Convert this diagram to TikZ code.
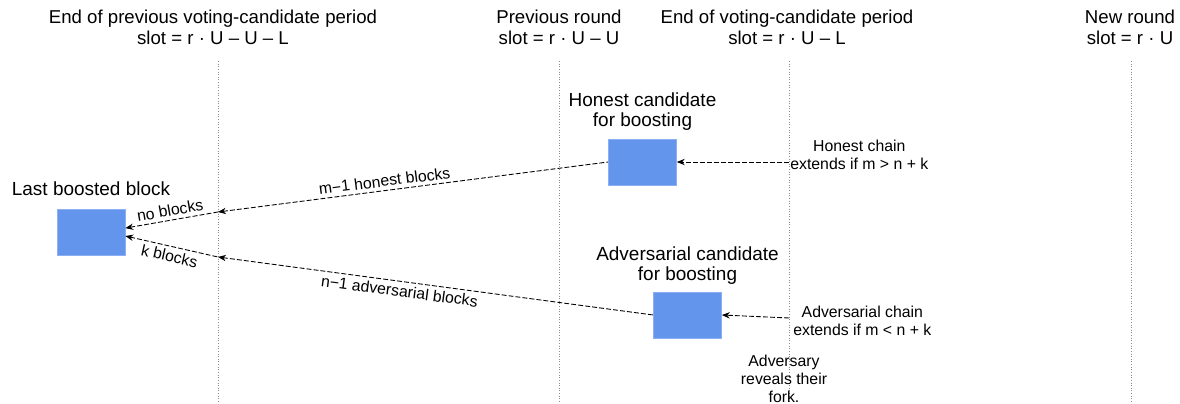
\documentclass[tikz,border=0pt]{standalone}
\usepackage{fontspec}
\setmainfont{Liberation Sans}
\usetikzlibrary{arrows.meta,positioning}
\definecolor{blockblue}{HTML}{6495ED}
\begin{document}
\begin{tikzpicture}[x=0.02cm,y=-0.02cm,>={Stealth[length=4.5pt,width=3.6pt]},
  block node/.style={rectangle,fill=blockblue,draw=blockblue!75!white,line width=0.4pt,minimum width=1.36cm,minimum height=0.92cm,inner sep=0pt},
  head node/.style={align=center,inner sep=0pt,font=\fontsize{10.6}{11.6}\selectfont},
  label node/.style={align=center,inner sep=0pt,font=\fontsize{10.8}{11.6}\selectfont},
  note node/.style={align=center,inner sep=0pt,font=\fontsize{9}{10.2}\selectfont},
  edge label/.style={font=\fontsize{9}{10.2}\selectfont,inner sep=2pt,sloped},
  slot line/.style={densely dotted,black!45,line width=0.5pt},
  chain/.style={densely dashed,dash pattern=on 2.8pt off 1.2pt,line width=0.5pt}]
  \useasboundingbox (0,0) rectangle (1180,404);

  % time marks
  \node[head node] (head1) at (213,27.5) {End of previous voting-candidate period\\slot = r · U – U – L};
  \node[head node] (head2) at (559,27.5) {Previous round\\slot = r · U – U};
  \node[head node] (head3) at (787,27.5) {End of voting-candidate period\\slot = r · U – L};
  \node[head node] (head4) at (1130,27.5) {New round\\slot = r · U};
  \foreach \name/\x in {prev/218,round/559,cand/789,new/1131} {
    \coordinate (\name top) at (\x,61);
    \coordinate (\name bot) at (\x,404);
    \draw[slot line] (\name top) -- (\name bot);
  }

  % blocks
  \node[block node] (last) at (91,232.5) {};
  \node[block node] (honest) at (642.5,162) {};
  \node[block node] (adv) at (687.5,315) {};
  \node[label node] (last label) [above=0.27cm of last] {Last boosted block};
  \node[label node] (honest label) [above=0.15cm of honest] {Honest candidate\\for boosting};
  \node[label node] (adv label) [above=0.13cm of adv] {Adversarial candidate\\for boosting};

  \coordinate (hmid) at (218,212);
  \coordinate (amid) at (218,257);
  \coordinate (hsrc) at (789,162);
  \coordinate (asrc) at (789,318);
  \node[note node,anchor=west] (honest note) at (790,155) {Honest chain\\extends if m > n + k};
  \node[note node,anchor=west] (adv note) at (793,321) {Adversarial chain\\extends if m < n + k};
  \node[note node] (reveal note) at (784,379) {Adversary\\reveals their\\fork.};

  % chains
  \draw[chain,->] (hsrc) -- (honest.east);
  \draw[chain,->] (asrc) -- (adv.east);
  \draw[chain,<-] (hmid) -- node[edge label,above,pos=0.43] {m−1 honest blocks} (honest.west);
  \draw[chain,<-] (amid) -- node[edge label,below,pos=0.42] {n−1 adversarial blocks} (adv.west);
  \draw[chain,<-] ([yshift=2.5pt]last.east) -- node[edge label,above,pos=0.5] {no blocks} (hmid);
  \draw[chain,<-] ([yshift=-2pt]last.east) -- node[edge label,below,pos=0.5] {k blocks} (amid);
\end{tikzpicture}
\end{document}
